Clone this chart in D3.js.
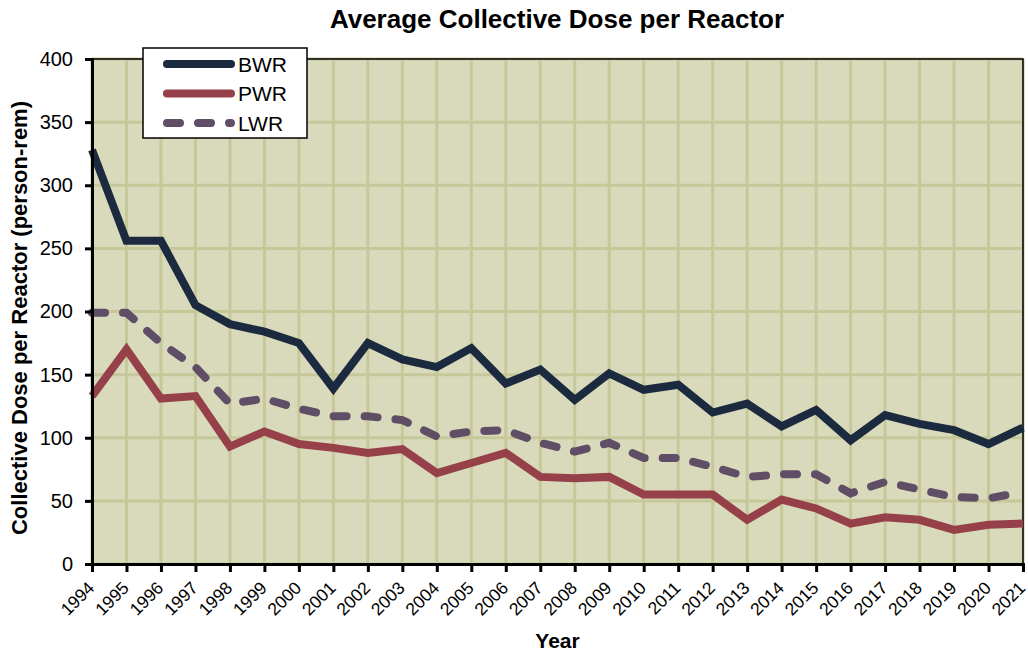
<!DOCTYPE html>
<html>
<head>
<meta charset="utf-8">
<script src="https://cdn.jsdelivr.net/npm/d3@7"></script>
<style>
  body { margin: 0; background: #fff; }
  text { font-family: Arial, "Liberation Sans", sans-serif; }
</style>
</head>
<body>
<svg id="chart" width="1028" height="653"></svg>
<script>
// chart values
var years = d3.range(1994, 2022);
var bwr = [328, 256, 256, 205, 190, 184, 175, 139, 175, 162, 156, 171, 143, 154,
           130, 151, 138, 142, 120, 127, 109, 122, 98, 118, 111, 106, 95, 108];
var pwr = [133, 170, 131, 133, 93, 105, 95, 92, 88, 91, 72, 80, 88, 69,
           68, 69, 55, 55, 55, 35, 51, 44, 32, 37, 35, 27, 31, 32];
var lwr = [199, 199, 175, 156, 127, 131, 123, 117, 117, 114, 101, 105, 106, 96,
           89, 96, 84, 84, 77, 69, 71, 71, 56, 65, 59, 53, 52, 57];
var yTicks = [0, 50, 100, 150, 200, 250, 300, 350, 400];

var series = [
    { name: "BWR", values: bwr, color: "#1b2a3f", dash: null },
    { name: "PWR", values: pwr, color: "#96404a", dash: null },
    { name: "LWR", values: lwr, color: "#5f4e66", dash: "13,18" }
];

var margin = { top: 59, right: 5, bottom: 89, left: 92 },
    width = 1028 - margin.left - margin.right,
    height = 653 - margin.top - margin.bottom;

var svg = d3.select("#chart");
var g = svg.append("g").attr("transform", "translate(" + margin.left + "," + margin.top + ")");

var x = d3.scaleLinear().domain([1994, 2021]).range([0, width]);
var y = d3.scaleLinear().domain([0, 400]).range([height, 0]);

// plot background
g.append("rect")
    .attr("width", width)
    .attr("height", height)
    .attr("fill", "#d9dabb");

// grid
g.append("g").selectAll("line")
    .data(years)
  .enter().append("line")
    .attr("x1", function (d) { return x(d); })
    .attr("x2", function (d) { return x(d); })
    .attr("y1", 0)
    .attr("y2", height)
    .attr("stroke", "#c6c89a")
    .attr("stroke-width", 3);

g.append("g").selectAll("line")
    .data(yTicks)
  .enter().append("line")
    .attr("x1", 0)
    .attr("x2", width)
    .attr("y1", function (d) { return y(d); })
    .attr("y2", function (d) { return y(d); })
    .attr("stroke", "#c6c89a")
    .attr("stroke-width", 3);

// thin frame on top and right
g.append("path")
    .attr("d", "M0,0H" + width + "V" + height)
    .attr("fill", "none")
    .attr("stroke", "#000")
    .attr("stroke-width", 1.5);

// lines
var line = d3.line()
    .x(function (d, i) { return x(years[i]); })
    .y(function (d) { return y(d); });

g.selectAll(".series")
    .data(series)
  .enter().append("path")
    .attr("class", "series")
    .attr("d", function (d) { return line(d.values); })
    .attr("fill", "none")
    .attr("stroke", function (d) { return d.color; })
    .attr("stroke-width", 8)
    .attr("stroke-linejoin", "miter")
    .attr("stroke-linecap", function (d) { return d.dash ? "round" : "butt"; })
    .attr("stroke-dasharray", function (d) { return d.dash; });

// axes
var yAxis = g.append("g")
    .call(d3.axisLeft(y).tickValues(yTicks).tickSize(7).tickPadding(12));
var xAxis = g.append("g")
    .attr("transform", "translate(0," + height + ")")
    .call(d3.axisBottom(x).tickValues(years).tickFormat(d3.format("d")).tickSize(8));

[yAxis, xAxis].forEach(function (ax) {
    ax.select(".domain").attr("stroke", "#000").attr("stroke-width", 3);
    ax.selectAll(".tick line").attr("stroke", "#000").attr("stroke-width", 3);
    ax.selectAll("text").attr("fill", "#000")
        .style("font-family", "Arial, 'Liberation Sans', sans-serif");
});

yAxis.selectAll("text").attr("font-size", 20);

xAxis.selectAll("text")
    .attr("font-size", 17.5)
    .attr("text-anchor", "end")
    .attr("x", 0)
    .attr("y", 0)
    .attr("dy", 0)
    .attr("transform", "translate(3,25) rotate(-45)");

// titles
svg.append("text")
    .attr("x", 557)
    .attr("y", 28)
    .attr("text-anchor", "middle")
    .attr("font-size", 26)
    .attr("font-weight", "bold")
    .text("Average Collective Dose per Reactor");

svg.append("text")
    .attr("x", margin.left + width / 2)
    .attr("y", 648)
    .attr("text-anchor", "middle")
    .attr("font-size", 21)
    .attr("font-weight", "bold")
    .text("Year");

svg.append("text")
    .attr("transform", "translate(27,318) rotate(-90)")
    .attr("text-anchor", "middle")
    .attr("font-size", 22)
    .attr("font-weight", "bold")
    .text("Collective Dose per Reactor (person-rem)");

// legend
var legend = svg.append("g").attr("transform", "translate(143,48)");
legend.append("rect")
    .attr("width", 164)
    .attr("height", 90)
    .attr("fill", "#fff")
    .attr("stroke", "#000")
    .attr("stroke-width", 1.5);

var item = legend.selectAll(".item")
    .data(series)
  .enter().append("g")
    .attr("transform", function (d, i) { return "translate(0," + (16 + i * 29.5) + ")"; });

item.append("line")
    .attr("x1", 24)
    .attr("x2", 88)
    .attr("stroke", function (d) { return d.color; })
    .attr("stroke-width", 8)
    .attr("stroke-linecap", "round")
    .attr("stroke-dasharray", function (d) { return d.dash; });

item.append("text")
    .attr("x", 95)
    .attr("dy", "0.36em")
    .attr("font-size", 21)
    .text(function (d) { return d.name; });
</script>
</body>
</html>
